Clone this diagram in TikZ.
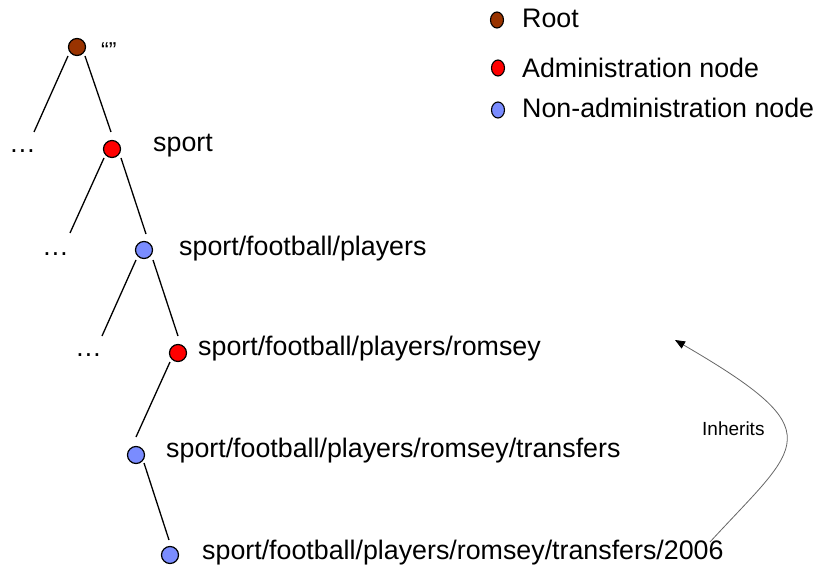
\documentclass[tikz,border=0pt]{standalone}
\usepackage{fontspec}
\setmainfont{Liberation Sans}
\usetikzlibrary{calc,arrows.meta}
\definecolor{rootc}{RGB}{153,51,0}
\definecolor{adminc}{RGB}{255,0,0}
\definecolor{nonadc}{RGB}{122,140,255}
\tikzset{
  treenode/.style={circle,draw=black,line width=1.2pt,minimum size=17pt,inner sep=0pt},
  legnode/.style={ellipse,draw=black,line width=1.1pt,minimum width=13pt,minimum height=16pt,inner sep=0pt},
  lbl/.style={anchor=base west,inner sep=0pt,font=\fontsize{26.8}{30}\selectfont},
  small/.style={anchor=base west,inner sep=0pt,font=\fontsize{19}{22}\selectfont},
  quot/.style={anchor=base west,inner sep=0pt,font=\fontsize{23}{26}\selectfont},
  edge/.style={draw=black,line width=1.3pt},
}
\usetikzlibrary{shapes.geometric}
\begin{document}
\begin{tikzpicture}[x=1pt,y=-1pt]
\useasboundingbox (0,0) rectangle (820,567);
% tree nodes
\node[treenode,fill=rootc] (root) at (77,47) {};
\node[treenode,fill=adminc] (sport) at (112,149) {};
\node[treenode,fill=nonadc] (players) at (144,250) {};
\node[treenode,fill=adminc] (romsey) at (178,353) {};
\node[treenode,fill=nonadc] (transfers) at (136,455) {};
\node[treenode,fill=nonadc] (y2006) at (170,555) {};
% labels
\node[quot] (quotes) at (101,59) {“”};
\node[lbl] (lsport) at (153,152) {sport};
\node[lbl] (lplayers) at (179,255) {sport/football/players};
\node[lbl] (lromsey) at (198,355) {sport/football/players/romsey};
\node[lbl] (ltransfers) at (166,457) {sport/football/players/romsey/transfers};
\node[lbl] (l2006) at (202,559) {sport/football/players/romsey/transfers/2006};
% ellipses
\node[lbl] (dots1) at (9,153) {…};
\node[lbl] (dots2) at (42,255) {…};
\node[lbl] (dots3) at (75,356) {…};
% free ends of side branches
\coordinate (e1) at (34,132);
\coordinate (e2) at (70,233);
\coordinate (e3) at (102,336);
% edges
\draw[edge] ($(root)+(-9,9)$) -- (e1);
\draw[edge] ($(root)+(8,9)$) -- ($(sport)+(-1,-17)$);
\draw[edge] ($(sport)+(-8,9)$) -- (e2);
\draw[edge] ($(sport)+(9,9)$) -- ($(players)+(2,-16)$);
\draw[edge] ($(players)+(-8,10)$) -- (e3);
\draw[edge] ($(players)+(9,10)$) -- ($(romsey)+(0,-17)$);
\draw[edge] ($(romsey)+(-8,9)$) -- ($(transfers)+(0,-18)$);
\draw[edge] ($(transfers)+(8,8)$) -- ($(y2006)+(-1,-15)$);
% legend
\node[legnode,fill=rootc] (kroot) at (497,20) {};
\node[legnode,fill=adminc] (kadmin) at (498,68) {};
\node[legnode,fill=nonadc] (knon) at (498,110) {};
\node[lbl] (troot) at (522,28) {Root};
\node[lbl] (tadmin) at (522,78) {Administration node};
\node[lbl] (tnon) at (522,118) {Non-administration node};
% inherits arrow
\coordinate (istart) at (710,542);
\coordinate (itip) at (675,340);
\draw[draw=gray!80!black,line width=0.8pt,-{Triangle[length=10pt,width=8pt,fill=black,color=black]}]
  (istart) .. controls (800,444) and (835,433) .. (itip);
\node[small] (inh) at (702,435) {Inherits};
\end{tikzpicture}
\end{document}
